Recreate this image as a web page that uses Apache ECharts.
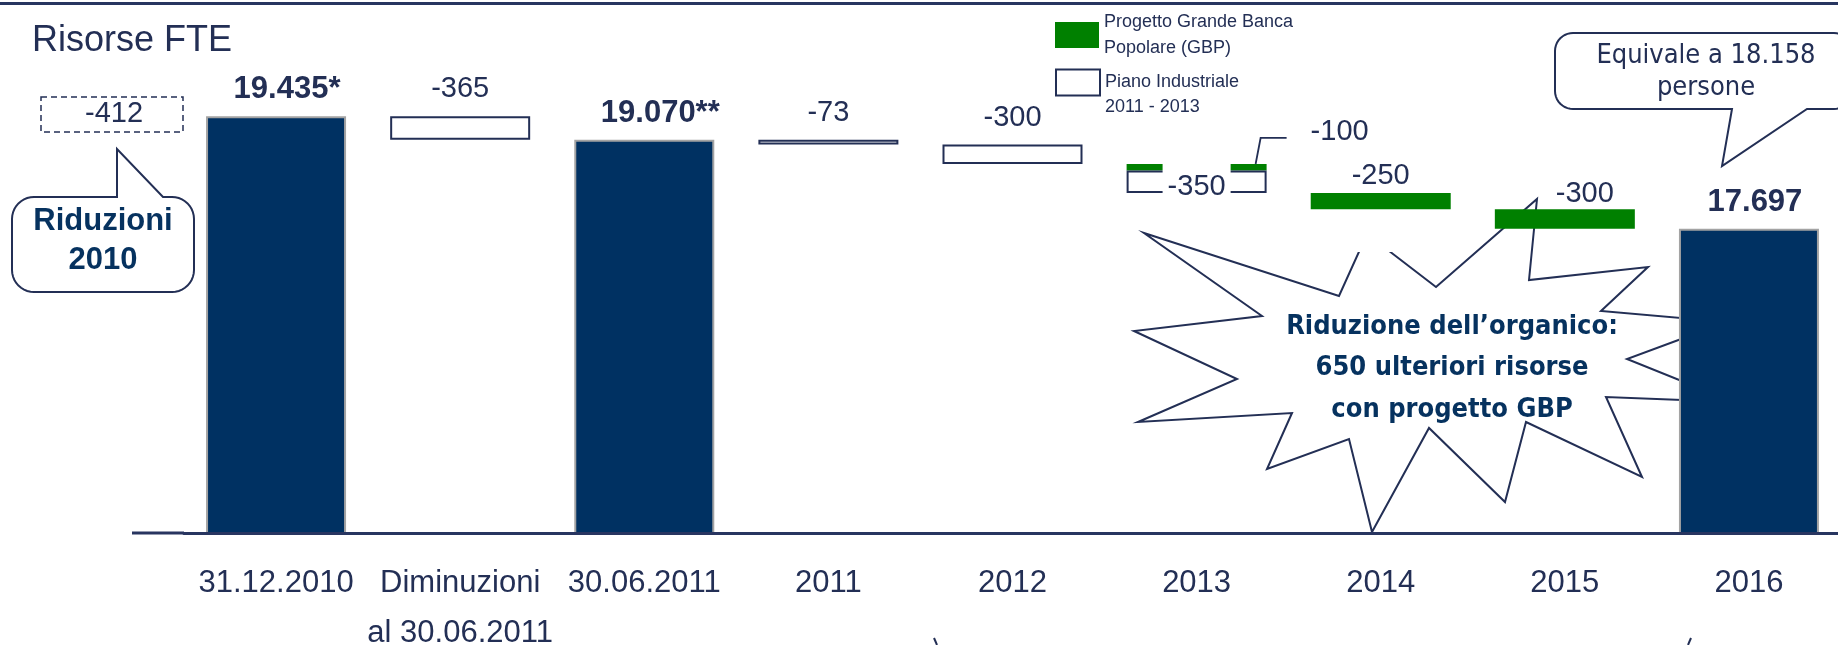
<!DOCTYPE html>
<html>
<head>
<meta charset="utf-8">
<script src="https://cdn.jsdelivr.net/npm/echarts@6/dist/echarts.min.js"></script>
<style>html,body{margin:0;padding:0;background:#fff}#c{width:1838px;height:645px}</style>
</head>
<body>
<div id="c"></div>
<script>
// ---- data ----
const categories = ['31.12.2010', 'Diminuzioni\nal 30.06.2011', '30.06.2011', '2011', '2012', '2013', '2014', '2015', '2016'];
const totals = [19435, null, 19070, null, null, null, null, null, 17697];
const totalMarks = ['*', '', '**', '', '', '', '', '', ''];
const pianoIndustriale = [null, -365, null, -73, -300, -350, null, null, null];
const progettoGBP = [null, null, null, null, null, -100, -250, -300, null];
const riduzioni2010 = -412;
const personeEquivalenti = 18158;
const riduzioneGBP = 650;

const GBP = 'Progetto Grande Banca Popolare (GBP)';
const PIANO = 'Piano Industriale 2011 - 2013';
const legendText = {};
legendText[GBP] = 'Progetto Grande Banca\nPopolare (GBP)';
legendText[PIANO] = '\nPiano Industriale\n2011 - 2013';

// ---- waterfall construction ----
const base = [], pianoH = [], gbpH = [], tops = [];
let level = 0;
categories.forEach((c, i) => {
  if (totals[i] != null) {
    level = totals[i]; base.push(0); pianoH.push(null); gbpH.push(null); tops.push(level); return;
  }
  const p = pianoIndustriale[i] || 0, g = progettoGBP[i] || 0;
  tops.push(level);
  level = level + p + g;
  base.push(level);
  pianoH.push(p ? -p : null);
  gbpH.push(g ? -g : null);
});

const fmt = v => String(v).replace(/\B(?=(\d{3})+(?!\d))/g, '.');

const NAVY = '#003162', TXT = '#232f55', BLUE = '#06325f', GREEN = '#008000', LINE = '#283560';
const FONT = '"Liberation Sans", Arial, sans-serif';
const COND = '"DejaVu Sans Condensed", "DejaVu Sans", sans-serif';
const BW = 140;

const chart = echarts.init(document.getElementById('c'), null, { renderer: 'canvas' });

const totalData = totals.map((v, i) => v == null ? null : {
  value: v,
  label: { offset: [6 + totalMarks[i].length * 5, 0] }
});

const pianoData = pianoH.map((v, i) => {
  if (v == null) return null;
  if (progettoGBP[i] != null) {
    return {
      value: v,
      label: {
        position: ['50%', '100%'], align: 'center', verticalAlign: 'middle',
        offset: [0, -6], backgroundColor: '#fff', padding: [20, 5, 2, 5], distance: 0
      }
    };
  }
  return v;
});

const gbpData = gbpH.map((v, i) => {
  if (v == null) return null;
  if (pianoIndustriale[i] != null) {
    return { value: v, label: { position: [BW + 44, -32], align: 'left', verticalAlign: 'middle' } };
  }
  if (i === 7) return { value: v, label: { offset: [20, 0], distance: 0 } };
  return { value: v, label: { distance: 2 } };
});

const option = {
  animation: false,
  backgroundColor: '#fff',
  title: {
    text: 'Risorse FTE', left: 32, top: 23, padding: 0,
    textStyle: { fontFamily: FONT, fontSize: 36, fontWeight: 'normal', color: TXT }
  },
  legend: [
    {
      data: [GBP], left: 1055, top: 9, padding: 0, orient: 'vertical',
      itemWidth: 44, itemHeight: 26, icon: 'rect', selectedMode: false,
      formatter: n => legendText[n],
      textStyle: { fontFamily: FONT, fontSize: 18, color: TXT, lineHeight: 26 }
    },
    {
      data: [PIANO], left: 1055, top: 45, padding: 0, orient: 'vertical',
      itemWidth: 44, itemHeight: 26, icon: 'rect', selectedMode: false,
      formatter: n => legendText[n],
      textStyle: { fontFamily: FONT, fontSize: 18, color: TXT, lineHeight: 25 }
    }
  ],
  grid: { left: 184, right: -3, top: 99, bottom: 112, containLabel: false, outerBoundsMode: 'none' },
  xAxis: {
    type: 'category', data: categories, z: 3,
    axisTick: { show: false },
    axisLine: { lineStyle: { color: LINE, width: 3 } },
    axisLabel: { interval: 0, margin: 25, fontFamily: FONT, fontSize: 31, color: TXT, lineHeight: 50 }
  },
  yAxis: { type: 'value', min: 13000, max: 19700, show: false },
  series: [
    {
      type: 'bar', name: 'base', stack: 'w', data: base, barWidth: BW, clip: true, silent: true,
      itemStyle: { color: 'rgba(0,0,0,0)' }, label: { show: false }
    },
    {
      type: 'bar', name: 'Risorse FTE', stack: 'w', data: totalData, barWidth: BW, clip: true,
      itemStyle: { color: NAVY, borderColor: '#a3a3a3', borderWidth: 2 },
      label: {
        show: true, position: 'top', distance: 11, fontFamily: FONT, fontSize: 31, fontWeight: 'bold', color: TXT,
        formatter: p => fmt(totals[p.dataIndex]) + totalMarks[p.dataIndex]
      }
    },
    {
      type: 'bar', name: PIANO, stack: 'w', data: pianoData, barWidth: BW, clip: true, z: 3,
      itemStyle: { color: '#fff', borderColor: TXT, borderWidth: 2 },
      label: {
        show: true, position: 'top', distance: 12, fontFamily: FONT, fontSize: 29, color: TXT, lineHeight: 30,
        formatter: p => fmt(pianoIndustriale[p.dataIndex])
      }
    },
    {
      type: 'bar', name: GBP, stack: 'w', data: gbpData, barWidth: BW, clip: true,
      itemStyle: { color: GREEN },
      label: {
        show: true, position: 'top', distance: 2, fontFamily: FONT, fontSize: 29, color: TXT, lineHeight: 30,
        formatter: p => fmt(progettoGBP[p.dataIndex])
      }
    }
  ]
};

chart.setOption(option);

// ---- annotations ----
function arc(cx, cy, r, a0, a1) {
  const pts = [], n = 10;
  for (let k = 0; k <= n; k++) {
    const a = (a0 + (a1 - a0) * k / n) * Math.PI / 180;
    pts.push([cx + r * Math.cos(a), cy + r * Math.sin(a)]);
  }
  return pts;
}
function callout(L, T, R, B, r, topPtr, botPtr) {
  return [].concat(
    arc(L + r, T + r, r, 180, 270), topPtr || [],
    arc(R - r, T + r, r, 270, 360),
    arc(R - r, B - r, r, 0, 90), botPtr || [],
    arc(L + r, B - r, r, 90, 180)
  );
}

const starPts = [
  [1144, 233], [1339, 296], [1367, 234], [1436, 287], [1537, 199], [1529, 280],
  [1648, 267], [1601, 311], [1727, 322], [1627, 359], [1734, 402], [1606, 397],
  [1642, 477], [1526, 422], [1505, 502], [1429, 428], [1372, 532], [1349, 439],
  [1267, 469], [1292, 413], [1138, 422], [1237, 379], [1134, 331], [1262, 316]
];

// leader line for the GBP 2013 label, placed through the axes
const p13 = chart.convertToPixel({ gridIndex: 0 }, [5, tops[5]]);
const boxRight = p13[0] + BW / 2;
const axisLeft = chart.convertToPixel({ gridIndex: 0 }, [0, 13000]);

const graphics = [
  { type: 'rect', z: 5, shape: { x: 0, y: 2, width: 1838, height: 3 }, style: { fill: LINE } },
  { type: 'line', z: 3, shape: { x1: 132, y1: axisLeft[1], x2: axisLeft[0] - 92, y2: axisLeft[1] }, style: { stroke: LINE, lineWidth: 3 } },
  // starburst
  { type: 'polygon', z: 0, shape: { points: starPts }, style: { fill: '#fff', stroke: TXT, lineWidth: 2 } },
  { type: 'rect', z: 1, shape: { x: 1345, y: 196, width: 70, height: 56 }, style: { fill: '#fff' } },
  {
    type: 'text', z: 6, x: 1452, y: 368,
    style: {
      text: 'Riduzione dell’organico:\n' + riduzioneGBP + ' ulteriori risorse\ncon progetto GBP',
      align: 'center', verticalAlign: 'middle', textAlign: 'center', textVerticalAlign: 'middle',
      fontFamily: COND, fontSize: 27, fontWeight: 'bold', fill: BLUE, lineHeight: 41.5
    }
  },
  // dashed -412 box
  { type: 'rect', z: 5, shape: { x: 41, y: 97, width: 142, height: 35 }, style: { fill: 'none', stroke: TXT, lineWidth: 1.5, lineDash: [6, 4] } },
  {
    type: 'text', z: 6, x: 114, y: 114,
    style: { text: fmt(riduzioni2010), align: 'center', verticalAlign: 'middle', textAlign: 'center', textVerticalAlign: 'middle', fontFamily: FONT, fontSize: 29, fill: TXT }
  },
  // Riduzioni 2010 callout
  {
    type: 'polygon', z: 5,
    shape: { points: callout(12, 197, 194, 292, 22, [[117, 197], [117, 149], [163, 197]], null) },
    style: { fill: '#fff', stroke: TXT, lineWidth: 2 }
  },
  {
    type: 'text', z: 6, x: 103, y: 241,
    style: { text: 'Riduzioni\n2010', align: 'center', verticalAlign: 'middle', textAlign: 'center', textVerticalAlign: 'middle', fontFamily: FONT, fontSize: 31, fontWeight: 'bold', fill: BLUE, lineHeight: 38.5 }
  },
  // Equivale callout
  {
    type: 'polygon', z: 5,
    shape: { points: callout(1555, 33, 1852, 109, 18, null, [[1807, 109], [1722, 166], [1732, 109]]) },
    style: { fill: '#fff', stroke: TXT, lineWidth: 2 }
  },
  {
    type: 'text', z: 6, x: 1706, y: 72,
    style: { text: 'Equivale a ' + fmt(personeEquivalenti) + '\npersone', align: 'center', verticalAlign: 'middle', textAlign: 'center', textVerticalAlign: 'middle', fontFamily: COND, fontSize: 27, fill: TXT, lineHeight: 32 }
  },
  // leader line of -100
  {
    type: 'polyline', z: 6,
    shape: { points: [[boxRight - 11, p13[1]], [boxRight - 6, p13[1] - 26], [boxRight + 20, p13[1] - 26]] },
    style: { stroke: TXT, lineWidth: 1.8, fill: 'none' }
  },
  // fragments at the bottom edge
  { type: 'line', z: 5, shape: { x1: 934, y1: 638, x2: 937, y2: 645 }, style: { stroke: TXT, lineWidth: 2 } },
  { type: 'line', z: 5, shape: { x1: 1691, y1: 638, x2: 1688, y2: 645 }, style: { stroke: TXT, lineWidth: 2 } }
];

chart.setOption({ graphic: graphics });
</script>
</body>
</html>
